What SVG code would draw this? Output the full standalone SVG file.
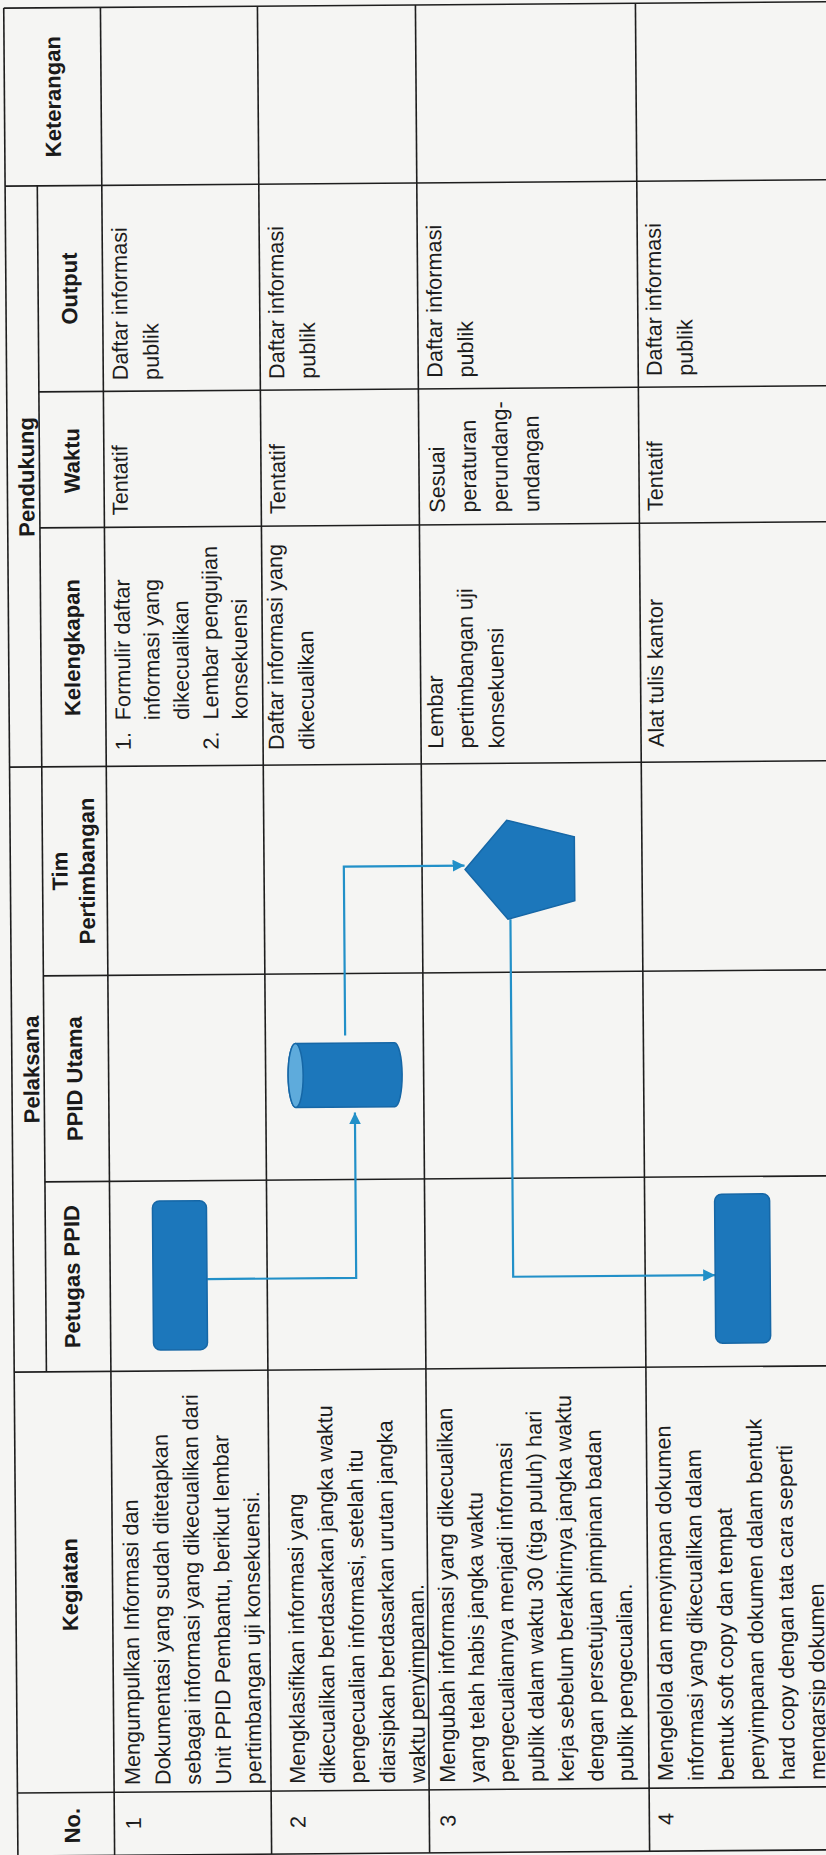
<svg xmlns="http://www.w3.org/2000/svg" width="826" height="1855" viewBox="0 0 826 1855">
<style>
.grid line{stroke:#1e1e1e;stroke-width:1.6}
.t{font-family:"Liberation Sans",Arial,sans-serif;font-size:21.7px;fill:#1c1c1c}
.h{font-family:"Liberation Sans",Arial,sans-serif;font-size:22px;font-weight:bold;fill:#1a1a1a;text-anchor:middle}
.n{text-anchor:middle}
.shape{fill:#1c77bb;stroke:#1667a6;stroke-width:1.5}
.conn path{fill:none;stroke:#2290c8;stroke-width:2.2}
</style>
<defs>
<marker id="arr" markerWidth="12" markerHeight="12" refX="12" refY="6" orient="auto" markerUnits="userSpaceOnUse">
<path d="M0,0 L12,6 L0,12 z" fill="#2290c8"/>
</marker>
</defs>
<rect x="0" y="0" width="826" height="1855" fill="#f5f5f3"/>
<g transform="rotate(-0.44 413 927)">
<g id="grid" class="grid">
<line x1="10.8" y1="5" x2="10.8" y2="1853"/>
<line x1="107.5" y1="5" x2="107.5" y2="1853"/>
<line x1="264.5" y1="5" x2="264.5" y2="1853"/>
<line x1="422.5" y1="5" x2="422.5" y2="1853"/>
<line x1="642.5" y1="5" x2="642.5" y2="1853"/>
<line x1="43" y1="183" x2="43" y2="1369"/>
<line x1="10.8" y1="5" x2="840" y2="5"/>
<line x1="10.8" y1="183" x2="840" y2="183"/>
<line x1="43" y1="389" x2="840" y2="389"/>
<line x1="43" y1="525" x2="840" y2="525"/>
<line x1="10.8" y1="764" x2="840" y2="764"/>
<line x1="43" y1="973" x2="840" y2="973"/>
<line x1="43" y1="1179" x2="840" y2="1179"/>
<line x1="10.8" y1="1369" x2="840" y2="1369"/>
<line x1="10.8" y1="1790" x2="840" y2="1790"/>
<line x1="10.8" y1="1853" x2="840" y2="1853"/>
</g>
<g id="headers">
<text class="h" transform="translate(67,94) rotate(-90)">Keterangan</text>
<text class="h" transform="translate(82,286) rotate(-90)">Output</text>
<text class="h" transform="translate(83,458) rotate(-90)">Waktu</text>
<text class="h" transform="translate(82,645) rotate(-90)">Kelengkapan</text>
<text class="h" transform="translate(37.5,474) rotate(-90)">Pendukung</text>
<text class="h" transform="translate(68,868.5) rotate(-90)">Tim</text>
<text class="h" transform="translate(95,868.5) rotate(-90)">Pertimbangan</text>
<text class="h" transform="translate(81,1076) rotate(-90)">PPID Utama</text>
<text class="h" transform="translate(38,1066.5) rotate(-90)">Pelaksana</text>
<text class="h" transform="translate(77,1274) rotate(-90)">Petugas PPID</text>
<text class="h" transform="translate(72.5,1582) rotate(-90)">Kegiatan</text>
<text class="h" transform="translate(73,1823) rotate(-90)">No.</text>
</g>
<g id="row-numbers">
<text class="t n" transform="translate(134,1821) rotate(-90)">1</text>
<text class="t n" transform="translate(298.5,1821) rotate(-90)">2</text>
<text class="t n" transform="translate(448.5,1821) rotate(-90)">3</text>
<text class="t n" transform="translate(666.5,1821) rotate(-90)">4</text>
</g>
<g id="kegiatan">
<text class="t" transform="translate(133.5,1783) rotate(-90)"><tspan x="0" y="0">Mengumpulkan Informasi dan</tspan><tspan x="0" dy="30.3">Dokumentasi yang sudah ditetapkan</tspan><tspan x="0" dy="30.3">sebagai informasi yang dikecualikan dari</tspan><tspan x="0" dy="30.3">Unit PPID Pembantu, berikut lembar</tspan><tspan x="0" dy="30.3">pertimbangan uji konsekuensi.</tspan></text>
<text class="t" transform="translate(298.5,1783) rotate(-90)"><tspan x="0" y="0">Mengklasifikan informasi yang</tspan><tspan x="0" dy="30">dikecualikan berdasarkan jangka waktu</tspan><tspan x="0" dy="30">pengecualian informasi, setelah itu</tspan><tspan x="0" dy="30">diarsipkan berdasarkan urutan jangka</tspan><tspan x="0" dy="30">waktu penyimpanan.</tspan></text>
<text class="t" transform="translate(448.5,1783) rotate(-90)"><tspan x="0" y="0">Mengubah informasi yang dikecualikan</tspan><tspan x="0" dy="29.7">yang telah habis jangka waktu</tspan><tspan x="0" dy="29.7">pengecualiannya menjadi informasi</tspan><tspan x="0" dy="29.7">publik dalam waktu 30 (tiga puluh) hari</tspan><tspan x="0" dy="29.7">kerja sebelum berakhirnya jangka waktu</tspan><tspan x="0" dy="29.7">dengan persetujuan pimpinan badan</tspan><tspan x="0" dy="29.7">publik pengecualian.</tspan></text>
<text class="t" transform="translate(666.5,1783) rotate(-90)"><tspan x="0" y="0">Mengelola dan menyimpan dokumen</tspan><tspan x="0" dy="30.4">informasi yang dikecualikan dalam</tspan><tspan x="0" dy="30.4">bentuk soft copy dan tempat</tspan><tspan x="0" dy="30.4">penyimpanan dokumen dalam bentuk</tspan><tspan x="0" dy="30.4">hard copy dengan tata cara seperti</tspan><tspan x="0" dy="30.4">mengarsip dokumen</tspan></text>
</g>
<g id="kelengkapan">
<text class="t" transform="translate(132,748) rotate(-90)"><tspan x="0" y="0">1.</tspan><tspan x="30" y="0">Formulir daftar</tspan><tspan x="30" dy="29.3">informasi yang</tspan><tspan x="30" dy="29.3">dikecualikan</tspan><tspan x="0" dy="29.3">2.</tspan><tspan x="30" dy="0">Lembar pengujian</tspan><tspan x="30" dy="29.3">konsekuensi</tspan></text>
<text class="t" transform="translate(285,749) rotate(-90)"><tspan x="0" y="0">Daftar informasi yang</tspan><tspan x="0" dy="30.5">dikecualikan</tspan></text>
<text class="t" transform="translate(444.5,749) rotate(-90)"><tspan x="0" y="0">Lembar</tspan><tspan x="0" dy="30.5">pertimbangan uji</tspan><tspan x="0" dy="30.5">konsekuensi</tspan></text>
<text class="t" transform="translate(665,749) rotate(-90)">Alat tulis kantor</text>
</g>
<g id="waktu">
<text class="t" transform="translate(131,513) rotate(-90)">Tentatif</text>
<text class="t" transform="translate(288.5,513) rotate(-90)">Tentatif</text>
<text class="t" transform="translate(448,513) rotate(-90)"><tspan x="0" y="0">Sesuai</tspan><tspan x="0" dy="31.5">peraturan</tspan><tspan x="0" dy="31.5">perundang-</tspan><tspan x="0" dy="31.5">undangan</tspan></text>
<text class="t" transform="translate(666,513) rotate(-90)">Tentatif</text>
</g>
<g id="output">
<text class="t" transform="translate(132,378) rotate(-90)"><tspan x="0" y="0">Daftar informasi</tspan><tspan x="0" dy="31">publik</tspan></text>
<text class="t" transform="translate(288.5,378) rotate(-90)"><tspan x="0" y="0">Daftar informasi</tspan><tspan x="0" dy="31">publik</tspan></text>
<text class="t" transform="translate(446.5,378) rotate(-90)"><tspan x="0" y="0">Daftar informasi</tspan><tspan x="0" dy="31">publik</tspan></text>
<text class="t" transform="translate(666,378) rotate(-90)"><tspan x="0" y="0">Daftar informasi</tspan><tspan x="0" dy="31">publik</tspan></text>
</g>
<g id="connectors" class="conn">
<path d="M204.5,1277.5 H353.5 V1112" marker-end="url(#arr)"/>
<path d="M344.3,1035 V866 H465" marker-end="url(#arr)"/>
<path d="M510.5,920 V1277.5 H712.5" marker-end="url(#arr)"/>
</g>
<g id="node-r1-petugas">
<rect class="shape" x="150.3" y="1199" width="54" height="149" rx="7"/>
</g>
<g id="node-r2-ppid-utama">
<path class="shape" d="M294.5,1042.5 H393.5 A7.5,32 0 0 1 393.5,1106.5 H294.5 A7.5,32 0 0 1 294.5,1042.5 Z"/>
<ellipse cx="294.5" cy="1074.5" rx="7.5" ry="32" fill="#5eabdc" stroke="#1667a6" stroke-width="1.5"/>
</g>
<g id="node-r3-tim">
<polygon class="shape" points="465.5,870 507.5,821 575,838 575,902 508,920"/>
</g>
<g id="node-r4-petugas">
<rect class="shape" x="712.5" y="1196.5" width="55" height="149" rx="7"/>
</g>
</g>
</svg>
